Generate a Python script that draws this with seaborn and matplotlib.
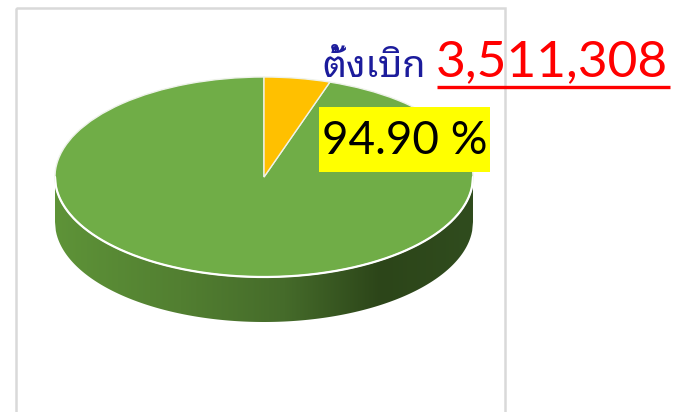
import numpy as np
import seaborn as sns
import matplotlib
matplotlib.use("Agg")
import matplotlib.pyplot as plt
from matplotlib.colors import LinearSegmentedColormap
from matplotlib.patches import Rectangle

# data
labels = ["เบิกจ่ายแล้ว", "คงเหลือ"]
shares = [94.90, 5.10]
total = 3511308
title_th = "ตั้งเบิก"
colors = ["#70AD47", "#FFC000"]

sns.set_theme(style="white")
plt.rcParams["font.family"] = ["Lato", "DejaVu Sans"]

W, H = 678, 412
fig = plt.figure(figsize=(W / 100, H / 100), dpi=100)

# pie (top face ellipse + side), in pixels
cx, cy, rx, ry, depth = 264, 177, 209, 100, 45
d = depth / ry
ax = fig.add_axes([(cx - rx) / W, 1 - (cy + ry + depth) / H, 2 * rx / W, (2 * ry + depth) / H])
wedges, _ = ax.pie(shares, colors=colors, startangle=90, counterclock=True,
                   wedgeprops=dict(edgecolor="#eef2ea", linewidth=1.0))

x = np.linspace(-1, 1, 500)
rim = -np.sqrt(1 - x ** 2)
side = ax.fill_between(x, rim - d, rim, color="none", linewidth=0)
side_cmap = LinearSegmentedColormap.from_list(
    "side", [(0, "#5e9338"), (0.3, "#527f31"), (0.55, "#456b2a"), (0.78, "#2c4519"), (1, "#304c1e")])
im = ax.imshow(np.linspace(0, 1, 256)[None, :], extent=(-1, 1, -1 - d, 0), aspect="auto",
               cmap=side_cmap, zorder=0)
im.set_clip_path(side.get_paths()[0], transform=ax.transData)
ax.plot(x, rim, color="white", lw=1.6, zorder=3)
ax.set_aspect("auto")
ax.set_xlim(-1, 1)
ax.set_ylim(-1 - d, 1)
ax.axis("off")

# overlay in pixel coords
ov = fig.add_axes([0, 0, 1, 1], facecolor="none")
ov.set_xlim(0, W)
ov.set_ylim(H, 0)
ov.axis("off")
ov.add_patch(Rectangle((16, 8), 489, 420, fill=False, edgecolor="#d9d9d9", lw=1.8))

ov.text(322, 77, title_th, color="#1c1c9c", fontsize=27, va="baseline",
        family=["Noto Sans Thai Looped", "DejaVu Sans"])
num = ov.text(436, 76, f"{total:,}", color="#ff0000", fontsize=37, va="baseline")
fig.canvas.draw()
bb = num.get_window_extent().transformed(ov.transData.inverted())
ov.plot([bb.x0 + 1, bb.x1 + 2], [87, 87], color="#ff0000", lw=2.4, solid_capstyle="butt")

ov.add_patch(Rectangle((319, 107), 171, 65, facecolor="#ffff00", edgecolor="none"))
ov.text(404.5, 141, f"{shares[0]:.2f} %", color="black", fontsize=33, ha="center", va="center")

fig.savefig("out.png", dpi=100)
